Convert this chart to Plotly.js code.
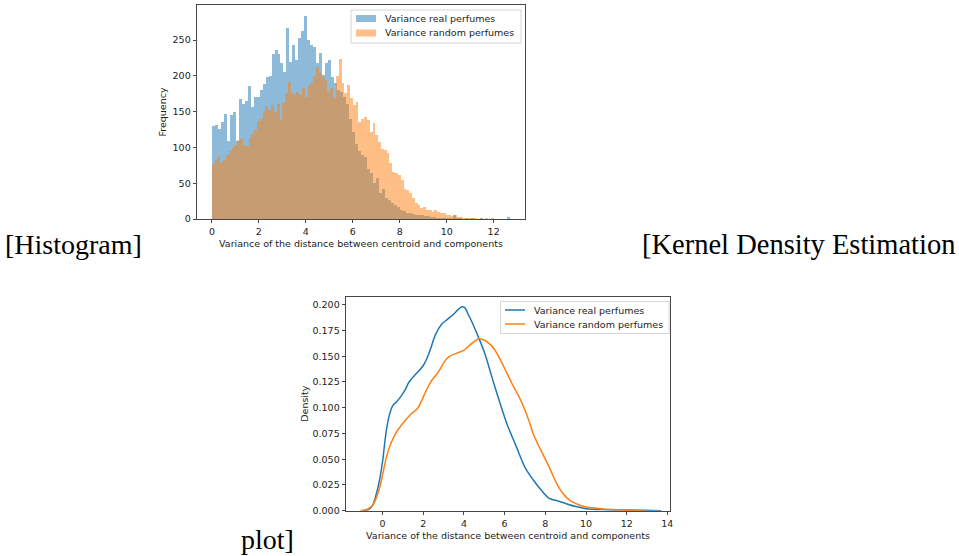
<!DOCTYPE html>
<html><head><meta charset="utf-8">
<script src="https://cdn.plot.ly/plotly-3.0.1.min.js"></script>
<style>html,body{margin:0;padding:0;background:#fff;} #chart{width:959px;height:556px;}</style>
</head><body><div id="chart"></div>
<script>
// ---- data ----
const seriesNames = ['Variance real perfumes', 'Variance random perfumes'];
const xTitle = 'Variance of the distance between centroid and components';
const histYTitle = 'Frequency';
const kdeYTitle = 'Density';

// histogram of real perfumes: 100 bins between these edges
const realBinStart = 0;
const realBinEnd = 12.7;
const realCounts = [
  130,131,126,136,147,109,146,150,109,168,160,165,186,157,171,171,180,189,198,200,231,
  236,231,218,205,267,220,243,222,253,263,284,250,243,240,218,232,201,218,222,199,
  190,180,178,170,160,140,122,105,95,90,86,70,64,50,57,36,42,30,26,23,
  20,17,13,11,9,8,7,6,6,5,4,4,3,3,2,2,2,1,1,1,
  5,1,1,0,1,0,1,0,0,1,0,0,0,0,0,0,0,0,3
];

// histogram of random perfumes: 100 bins between these edges
const randomBinStart = 0;
const randomBinEnd = 12.0;
const randomCounts = [
  77,84,88,79,82,90,95,99,104,110,112,104,102,113,119,125,137,140,150,158,
  152,159,150,161,138,162,176,192,176,173,178,173,183,171,187,192,200,213,204,199,
  194,178,183,169,200,224,190,176,187,169,159,164,136,140,143,139,122,134,118,108,
  98,96,92,78,66,64,62,54,42,40,37,29,22,20,16,17,13,12,10,13,
  10,8,9,6,5,4,5,3,3,2,2,2,1,1,0,1,0,1,0,1
];

// kernel density estimates
const kdeRealX = [-0.95,-0.7,-0.5,-0.3,-0.15,0,0.1,0.2,0.35,0.5,0.7,0.9,1.1,1.3,1.6,2.0,2.3,2.6,2.9,3.2,3.5,3.75,3.9,4.05,4.2,4.4,4.7,5.0,5.4,5.7,6.1,6.6,7.0,7.4,7.8,8.2,8.7,9.0,9.5,10,11,12,12.7,13.3,13.7];
const kdeRealY = [0,0.001,0.005,0.017,0.03,0.048,0.065,0.08,0.094,0.102,0.106,0.111,0.117,0.125,0.132,0.141,0.154,0.171,0.181,0.186,0.191,0.196,0.198,0.197,0.191,0.183,0.169,0.154,0.128,0.109,0.085,0.061,0.042,0.030,0.020,0.012,0.009,0.007,0.004,0.002,0.001,0.0006,0.0005,0.0002,0];
const kdeRandomX = [-1.1,-0.8,-0.5,-0.3,-0.1,0,0.2,0.4,0.7,1.0,1.35,1.7,1.9,2.15,2.4,2.75,3.05,3.3,3.65,4.0,4.3,4.55,4.75,4.95,5.2,5.45,5.7,5.95,6.2,6.45,6.7,6.95,7.2,7.4,7.65,7.9,8.15,8.4,8.65,8.9,9.2,9.55,9.9,10.2,10.85,11.8,12.8];
const kdeRandomY = [0,0.001,0.005,0.013,0.026,0.035,0.053,0.065,0.077,0.085,0.093,0.099,0.106,0.117,0.126,0.135,0.145,0.150,0.153,0.156,0.161,0.165,0.167,0.166,0.163,0.158,0.150,0.140,0.130,0.120,0.111,0.100,0.087,0.075,0.064,0.054,0.044,0.033,0.023,0.016,0.010,0.0065,0.004,0.003,0.0016,0.0007,0];

const sideLabels = ['[Histogram]', '[Kernel Density Estimation', 'plot]'];

// ---- helpers ----
const W = 959, H = 556;
const fx = p => p / W;
const fy = p => 1 - p / H;
function binCenters(start, end, n) {
  const w = (end - start) / n;
  return { w: w, x: Array.from({length: n}, (_, i) => start + (i + 0.5) * w) };
}
const realBins = binCenters(realBinStart, realBinEnd, realCounts.length);
const randomBins = binCenters(randomBinStart, randomBinEnd, randomCounts.length);

const C0 = '#1f77b4', C1 = '#ff7f0e';
const FONT = 'DejaVu Sans, sans-serif';
const SERIF = 'Liberation Serif, DejaVu Serif, serif';
const tickFont = {family: FONT, size: 9.5, color: '#222'};

const traces = [
  {type: 'bar', x: realBins.x, y: realCounts, width: realBins.w, name: seriesNames[0],
   marker: {color: C0, line: {width: 0}}, opacity: 0.5, xaxis: 'x', yaxis: 'y', showlegend: false},
  {type: 'bar', x: randomBins.x, y: randomCounts, width: randomBins.w, name: seriesNames[1],
   marker: {color: C1, line: {width: 0}}, opacity: 0.5, xaxis: 'x', yaxis: 'y', showlegend: false},
  {type: 'scatter', mode: 'lines', x: kdeRealX, y: kdeRealY, name: seriesNames[0],
   line: {color: C0, width: 1.5, shape: 'spline', smoothing: 1}, xaxis: 'x2', yaxis: 'y2', showlegend: false},
  {type: 'scatter', mode: 'lines', x: kdeRandomX, y: kdeRandomY, name: seriesNames[1],
   line: {color: C1, width: 1.5, shape: 'spline', smoothing: 1}, xaxis: 'x2', yaxis: 'y2', showlegend: false}
];

const axisCommon = {
  showgrid: false, zeroline: false, showline: true, mirror: true,
  linecolor: '#333', linewidth: 0.9, ticks: 'outside', ticklen: 3.5, tickwidth: 0.9,
  tickcolor: '#333', tickfont: tickFont, fixedrange: true
};

const layout = {
  width: W, height: H, margin: {l: 0, r: 0, t: 0, b: 0},
  paper_bgcolor: '#fff', plot_bgcolor: '#fff',
  barmode: 'overlay', bargap: 0, showlegend: false,
  xaxis: Object.assign({}, axisCommon, {
    domain: [fx(197), fx(525)], range: [-0.635, 13.335], tick0: 0, dtick: 2, anchor: 'y',
    title: {text: xTitle, font: {family: FONT, size: 9.5, color: '#222'}, standoff: 4}
  }),
  yaxis: Object.assign({}, axisCommon, {
    domain: [fy(219), fy(5)], range: [0, 299], tick0: 0, dtick: 50, anchor: 'x',
    title: {text: histYTitle, font: {family: FONT, size: 9.5, color: '#222'}, standoff: 4}
  }),
  xaxis2: Object.assign({}, axisCommon, {
    domain: [fx(346), fx(670)], range: [-1.8, 14.13], tick0: 0, dtick: 2, anchor: 'y2',
    title: {text: xTitle, font: {family: FONT, size: 9.5, color: '#222'}, standoff: 4}
  }),
  yaxis2: Object.assign({}, axisCommon, {
    domain: [fy(510.7), fy(296.7)], range: [0, 0.2078], tick0: 0, dtick: 0.025, tickformat: '.3f', anchor: 'x2',
    title: {text: kdeYTitle, font: {family: FONT, size: 9.5, color: '#222'}, standoff: 2}
  }),
  shapes: [
    // histogram legend
    {type: 'rect', xref: 'paper', yref: 'paper', x0: fx(351), x1: fx(521), y0: fy(43), y1: fy(10),
     line: {color: '#d0d0d0', width: 0.9}, fillcolor: 'rgba(255,255,255,0.8)', layer: 'above'},
    {type: 'rect', xref: 'paper', yref: 'paper', x0: fx(356), x1: fx(376), y0: fy(22), y1: fy(15),
     line: {width: 0}, fillcolor: C0, opacity: 0.5, layer: 'above'},
    {type: 'rect', xref: 'paper', yref: 'paper', x0: fx(356), x1: fx(376), y0: fy(36.5), y1: fy(29.5),
     line: {width: 0}, fillcolor: C1, opacity: 0.5, layer: 'above'},
    // kde legend
    {type: 'rect', xref: 'paper', yref: 'paper', x0: fx(500.5), x1: fx(669), y0: fy(333.5), y1: fy(301.5),
     line: {color: '#d0d0d0', width: 0.9}, fillcolor: 'rgba(255,255,255,0.8)', layer: 'above'},
    {type: 'line', xref: 'paper', yref: 'paper', x0: fx(505), x1: fx(525), y0: fy(310), y1: fy(310),
     line: {color: C0, width: 1.5}, layer: 'above'},
    {type: 'line', xref: 'paper', yref: 'paper', x0: fx(505), x1: fx(525), y0: fy(324), y1: fy(324),
     line: {color: C1, width: 1.5}, layer: 'above'}
  ],
  annotations: [
    {xref: 'paper', yref: 'paper', x: fx(383), y: fy(18.5), xanchor: 'left', yanchor: 'middle', showarrow: false,
     text: seriesNames[0], font: {family: FONT, size: 9.5, color: '#222'}},
    {xref: 'paper', yref: 'paper', x: fx(383), y: fy(33), xanchor: 'left', yanchor: 'middle', showarrow: false,
     text: seriesNames[1], font: {family: FONT, size: 9.5, color: '#222'}},
    {xref: 'paper', yref: 'paper', x: fx(532), y: fy(310), xanchor: 'left', yanchor: 'middle', showarrow: false,
     text: seriesNames[0], font: {family: FONT, size: 9.5, color: '#222'}},
    {xref: 'paper', yref: 'paper', x: fx(532), y: fy(324), xanchor: 'left', yanchor: 'middle', showarrow: false,
     text: seriesNames[1], font: {family: FONT, size: 9.5, color: '#222'}},
    {xref: 'paper', yref: 'paper', x: fx(3), y: fy(245), xanchor: 'left', yanchor: 'middle', showarrow: false,
     text: sideLabels[0], font: {family: SERIF, size: 28, color: '#000'}},
    {xref: 'paper', yref: 'paper', x: fx(957), y: fy(245), xanchor: 'right', yanchor: 'middle', showarrow: false,
     text: sideLabels[1], font: {family: SERIF, size: 28.5, color: '#000'}},
    {xref: 'paper', yref: 'paper', x: fx(239), y: fy(539), xanchor: 'left', yanchor: 'middle', showarrow: false,
     text: sideLabels[2], font: {family: SERIF, size: 28, color: '#000'}}
  ]
};

Plotly.newPlot('chart', traces, layout, {displayModeBar: false, staticPlot: true});
</script>
</body></html>
